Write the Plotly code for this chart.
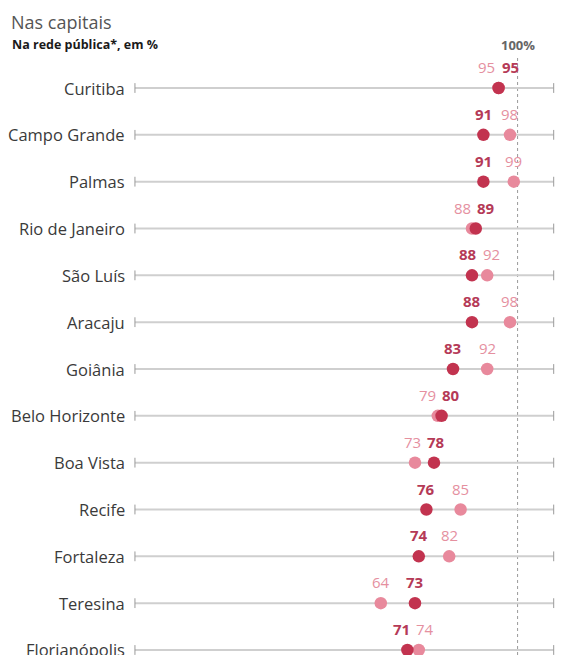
import plotly.graph_objects as go

cities = ["Curitiba", "Campo Grande", "Palmas", "Rio de Janeiro", "São Luís", "Aracaju",
          "Goiânia", "Belo Horizonte", "Boa Vista", "Recife", "Fortaleza", "Teresina",
          "Florianópolis"]
dark_vals = [95, 91, 91, 89, 88, 88, 83, 80, 78, 76, 74, 73, 71]
pink_vals = [95, 98, 99, 88, 92, 98, 92, 79, 73, 85, 82, 64, 74]

DARK = "#c2334f"
DARK_TXT = "#b53a57"
PINK = "#e8899c"
PINK_TXT = "#e5909f"
FONT = "Open Sans"

X0, X1 = -0.7, 109.5
rows = list(range(len(cities)))

fig = go.Figure()

# row baselines
lx, ly = [], []
for i in rows:
    lx += [X0, X1, None]
    ly += [i, i, None]
fig.add_trace(go.Scatter(x=lx, y=ly, mode="lines", line=dict(color="#cfcfcf", width=2),
                         hoverinfo="skip", showlegend=False))
# end ticks
tx, ty = [], []
for i in rows:
    tx += [X0, X1]
    ty += [i, i]
fig.add_trace(go.Scatter(x=tx, y=ty, mode="markers",
                         marker=dict(symbol="line-ns-open", size=7, color="#9a9a9a",
                                     line=dict(color="#9a9a9a", width=1)),
                         hoverinfo="skip", showlegend=False, cliponaxis=False))

fig.add_trace(go.Scatter(x=pink_vals, y=rows, mode="markers",
                         marker=dict(color=PINK, size=12.5), showlegend=False))
fig.add_trace(go.Scatter(x=dark_vals, y=rows, mode="markers",
                         marker=dict(color=DARK, size=12.5), showlegend=False))

annotations = []
MIN_SEP = 6.2
for i in rows:
    d, p = dark_vals[i], pink_vals[i]
    xd, xp = d, p
    if abs(d - p) < MIN_SEP:
        mid = (d + p) / 2
        if p <= d:
            xp, xd = mid - MIN_SEP / 2, mid + MIN_SEP / 2
        else:
            xd, xp = mid - MIN_SEP / 2, mid + MIN_SEP / 2
    annotations.append(dict(x=xd, y=i, text=f"<b>{d}</b>", showarrow=False, yshift=21,
                            xanchor="center", font=dict(family=FONT, size=15, color=DARK_TXT)))
    annotations.append(dict(x=xp, y=i, text=f"{p}", showarrow=False, yshift=21,
                            xanchor="center", font=dict(family=FONT, size=15, color=PINK_TXT)))
    annotations.append(dict(x=-0.007, xref="paper", y=i, text=cities[i], showarrow=False,
                            xanchor="right", yanchor="middle",
                            font=dict(family=FONT, size=16.5, color="#3a3a3a")))

annotations.append(dict(x=-0.279, xref="paper", y=1.0167, yref="paper", text="<b>Na rede pública*, em %</b>",
                        showarrow=False, xanchor="left", yanchor="middle",
                        font=dict(family=FONT, size=12.5, color="#1a1a1a")))
annotations.append(dict(x=-0.282, xref="paper", y=1.0783, yref="paper", text="Nas capitais",
                        showarrow=False, xanchor="left", yanchor="top",
                        font=dict(family=FONT, size=18, color="#555555")))
annotations.append(dict(x=100, y=1.0167, yref="paper", text="<b>100%</b>",
                        showarrow=False, xanchor="center", yanchor="middle",
                        font=dict(family=FONT, size=13, color="#666666")))

fig.add_shape(type="line", x0=100, x1=100, y0=0, y1=1.0, yref="paper", xref="x",
              line=dict(color="#9a9a9a", width=1, dash="dot"), layer="below")

fig.update_layout(
    width=557, height=647,
    margin=dict(l=122, r=5, t=47, b=0),
    plot_bgcolor="white", paper_bgcolor="white",
    xaxis=dict(range=[-2, 111.16], visible=False, fixedrange=True),
    yaxis=dict(range=[12.107, -0.705], visible=False, fixedrange=True),
    annotations=annotations,
    showlegend=False,
)

fig.write_html("out.html")
